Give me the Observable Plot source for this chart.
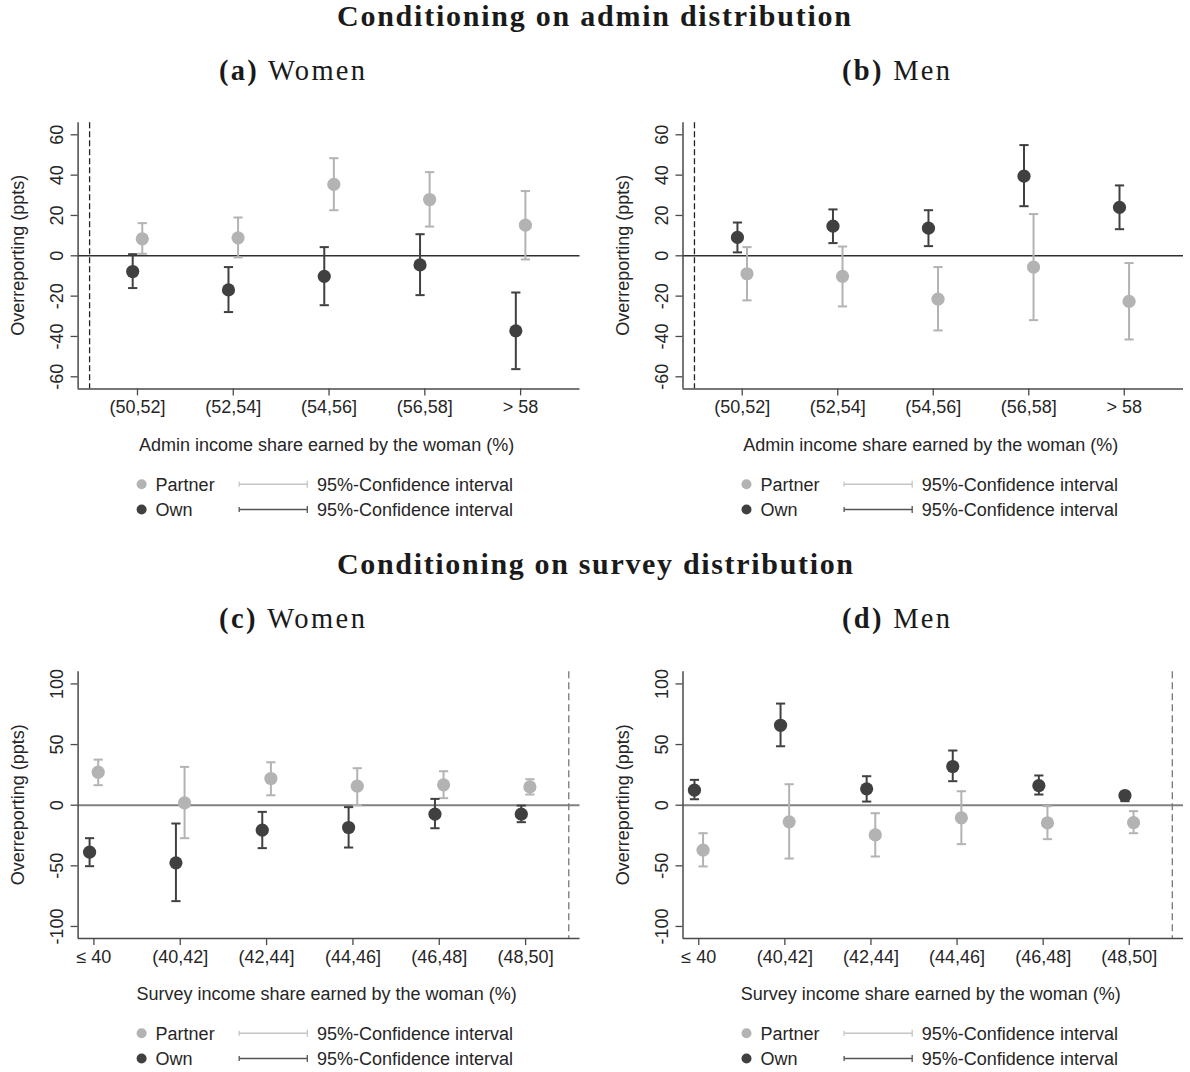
<!DOCTYPE html>
<html><head><meta charset="utf-8">
<script src="https://cdn.jsdelivr.net/npm/d3@7"></script>
<script src="https://cdn.jsdelivr.net/npm/@observablehq/plot@0.6"></script>
<style>
html,body{margin:0;padding:0;background:#fff;}
#root{position:relative;width:1190px;height:1072px;overflow:hidden;background:#fff;}
#root > svg{position:absolute;}
</style></head><body><div id="root"></div>
<script>
// ---- categories and tick labels ----
const adminCategories = ["(50,52]", "(52,54]", "(54,56]", "(56,58]", "> 58"];
const surveyCategories = ["≤ 40", "(40,42]", "(42,44]", "(44,46]", "(46,48]", "(48,50]"];
const adminTicksY = [-60, -40, -20, 0, 20, 40, 60];
const surveyTicksY = [-100, -50, 0, 50, 100];

// ---- (a) Women, admin distribution ----
const womenAdminPartner     = [8.4, 8.9, 35.4, 27.9, 15.2];
const womenAdminPartnerLow  = [1.0, -0.8, 22.6, 14.5, -1.8];
const womenAdminPartnerHigh = [16.2, 19.0, 48.4, 41.5, 32.1];
const womenAdminOwn         = [-7.8, -16.9, -10.2, -4.5, -37.2];
const womenAdminOwnLow      = [-16.0, -27.9, -24.5, -19.5, -56.2];
const womenAdminOwnHigh     = [0.8, -5.6, 4.3, 10.7, -18.2];

// ---- (b) Men, admin distribution ----
const menAdminPartner     = [-8.9, -10.2, -21.5, -5.6, -22.6];
const menAdminPartnerLow  = [-22.1, -25.1, -37.0, -31.9, -41.5];
const menAdminPartnerHigh = [4.3, 4.6, -5.6, 20.7, -3.6];
const menAdminOwn         = [9.1, 14.7, 13.7, 39.5, 24.0];
const menAdminOwnLow      = [1.7, 6.3, 4.8, 24.6, 13.2];
const menAdminOwnHigh     = [16.5, 23.0, 22.6, 54.9, 34.9];

// ---- (c) Women, survey distribution ----
const womenSurveyPartner     = [27.2, 1.9, 22.0, 15.7, 16.8, 15.1];
const womenSurveyPartnerLow  = [16.5, -27.2, 8.2, 0.0, 5.8, 8.8];
const womenSurveyPartnerHigh = [37.6, 31.6, 35.4, 30.5, 28.0, 21.4];
const womenSurveyOwn         = [-38.7, -47.5, -20.6, -18.4, -7.4, -7.4];
const womenSurveyOwnLow      = [-50.3, -79.1, -35.4, -34.9, -19.0, -14.0];
const womenSurveyOwnHigh     = [-27.2, -15.1, -5.5, -1.6, 5.2, -0.3];

// ---- (d) Men, survey distribution ----
const menSurveyPartner     = [-37.1, -13.7, -24.5, -10.4, -14.6, -14.3];
const menSurveyPartnerLow  = [-50.5, -44.0, -42.3, -32.1, -28.0, -23.1];
const menSurveyPartnerHigh = [-23.1, 17.3, -6.6, 11.5, -0.8, -4.9];
const menSurveyOwn         = [12.4, 65.9, 13.5, 31.9, 16.2, 8.0];
const menSurveyOwnLow      = [4.9, 48.6, 3.0, 19.8, 8.8, 3.3];
const menSurveyOwnHigh     = [20.9, 83.8, 23.9, 45.1, 24.5, 10.7];

// ---- styling ----
const partnerColor = "#b3b3b3";
const ownColor = "#404040";
const partnerLegendLine = "#c6c6c6";
const ownLegendLine = "#555555";
const sans = "'Liberation Sans', Arial, Helvetica, sans-serif";
const serif = "'Liberation Serif', 'Times New Roman', serif";

function rows(categories, est, lo, hi, who) {
  return categories.map((c, i) => ({cat: c, pos: i + 1, who, est: est[i], lo: lo[i], hi: hi[i]}));
}

const capSymbol = {
  draw(ctx, size) {
    const h = Math.sqrt(size / Math.PI);
    ctx.moveTo(-h, 0);
    ctx.lineTo(h, 0);
  }
};

function panel(cfg) {
  const {categories, own, partner, xDomain, yDomain, yTicks, cut, zeroStroke, zeroWidth, cutStroke, cutDash} = cfg;
  const shift = 0.05;
  const xOf = d => d.pos + (d.who === "Own" ? -shift : shift);
  const series = (data, color) => [
    Plot.ruleX(data, {x: xOf, y1: "lo", y2: "hi", stroke: color, strokeWidth: 2}),
    Plot.dot(data, {x: xOf, y: "lo", symbol: capSymbol, r: 4.6, stroke: color, strokeWidth: 2, fill: "none"}),
    Plot.dot(data, {x: xOf, y: "hi", symbol: capSymbol, r: 4.6, stroke: color, strokeWidth: 2, fill: "none"}),
    Plot.dot(data, {x: xOf, y: "est", r: 6.6, fill: color, stroke: "none"})
  ];
  const svg = Plot.plot({
    width: cfg.width, height: cfg.height,
    marginLeft: cfg.marginLeft, marginRight: cfg.marginRight,
    marginTop: cfg.marginTop, marginBottom: cfg.marginBottom,
    style: {fontFamily: sans, fontSize: "18px", color: "#222", background: "transparent", overflow: "visible"},
    x: {domain: xDomain, axis: null},
    y: {domain: yDomain, axis: null},
    marks: [
      Plot.ruleY([0], {stroke: zeroStroke, strokeWidth: zeroWidth}),
      Plot.ruleX([cut], {stroke: cutStroke, strokeWidth: 1.3, strokeDasharray: cutDash}),
      ...series(partner, partnerColor),
      ...series(own, ownColor),
      Plot.ruleX([xDomain[0]], {stroke: "#4a4a4a", strokeWidth: 1.5}),
      Plot.ruleY([yDomain[0]], {stroke: "#4a4a4a", strokeWidth: 1.5}),
      Plot.axisX({ticks: categories.map((c, i) => i + 1), tickFormat: i => categories[i - 1],
        tickSize: 7, tickPadding: 4.5, label: null, stroke: "#4a4a4a", strokeWidth: 1.3, fill: "#262626", fontSize: 18}),
      Plot.axisY({ticks: yTicks, tickFormat: d => String(d), tickRotate: -90,
        tickSize: 7, tickPadding: 8, label: null, stroke: "#4a4a4a", strokeWidth: 1.3, fill: "#262626", fontSize: 18})
    ]
  });
  svg.style.left = cfg.left + "px";
  svg.style.top = cfg.top + "px";
  return svg;
}

const root = document.getElementById("root");
const adminX = [0.38, 5.62];
const surveyX = [0.817, 6.63];
const common = {height: 350};

const panels = [
  {left: 0, top: 110, width: 595, marginLeft: 77.6, marginRight: 15.5, marginTop: 12.2, marginBottom: 71.6,
   categories: adminCategories, xDomain: adminX, yDomain: [-66, 66], yTicks: adminTicksY, cut: 0.5,
   own: rows(adminCategories, womenAdminOwn, womenAdminOwnLow, womenAdminOwnHigh, "Own"),
   partner: rows(adminCategories, womenAdminPartner, womenAdminPartnerLow, womenAdminPartnerHigh, "Partner"),
   zeroStroke: "#303030", zeroWidth: 1.4, cutStroke: "#222", cutDash: "6,3"},
  {left: 605, top: 110, width: 585, marginLeft: 77.5, marginRight: 7, marginTop: 12.2, marginBottom: 71.6,
   categories: adminCategories, xDomain: adminX, yDomain: [-66, 66], yTicks: adminTicksY, cut: 0.5,
   own: rows(adminCategories, menAdminOwn, menAdminOwnLow, menAdminOwnHigh, "Own"),
   partner: rows(adminCategories, menAdminPartner, menAdminPartnerLow, menAdminPartnerHigh, "Partner"),
   zeroStroke: "#303030", zeroWidth: 1.4, cutStroke: "#222", cutDash: "6,3"},
  {left: 0, top: 660, width: 595, marginLeft: 77.6, marginRight: 15.5, marginTop: 11.3, marginBottom: 71.9,
   categories: surveyCategories, xDomain: surveyX, yDomain: [-110, 110], yTicks: surveyTicksY, cut: 6.5,
   own: rows(surveyCategories, womenSurveyOwn, womenSurveyOwnLow, womenSurveyOwnHigh, "Own"),
   partner: rows(surveyCategories, womenSurveyPartner, womenSurveyPartnerLow, womenSurveyPartnerHigh, "Partner"),
   zeroStroke: "#808080", zeroWidth: 2, cutStroke: "#777", cutDash: "7,4"},
  {left: 605, top: 660, width: 585, marginLeft: 77.5, marginRight: 7, marginTop: 11.3, marginBottom: 71.9,
   categories: surveyCategories, xDomain: surveyX, yDomain: [-110, 110], yTicks: surveyTicksY, cut: 6.5,
   own: rows(surveyCategories, menSurveyOwn, menSurveyOwnLow, menSurveyOwnHigh, "Own"),
   partner: rows(surveyCategories, menSurveyPartner, menSurveyPartnerLow, menSurveyPartnerHigh, "Partner"),
   zeroStroke: "#808080", zeroWidth: 2, cutStroke: "#777", cutDash: "7,4"}
];
for (const p of panels) root.appendChild(panel({...common, ...p}));

// ---- overlay: titles, axis titles, legends ----
const NS = "http://www.w3.org/2000/svg";
const ov = document.createElementNS(NS, "svg");
ov.setAttribute("width", 1190); ov.setAttribute("height", 1072);
ov.style.left = "0px"; ov.style.top = "0px"; ov.style.zIndex = 2; ov.style.pointerEvents = "none";
root.appendChild(ov);
function el(tag, attrs, text) {
  const e = document.createElementNS(NS, tag);
  for (const k in attrs) e.setAttribute(k, attrs[k]);
  if (text != null) e.textContent = text;
  ov.appendChild(e);
  return e;
}
function title(x, y, txt, len) {
  el("text", {x, y, "text-anchor": "middle", "font-family": serif, "font-weight": "bold", "font-size": 30,
    fill: "#1a1a1a", textLength: len, lengthAdjust: "spacing"}, txt);
}
function subtitle(x, y, tag, word, len) {
  const t = el("text", {x, y, "text-anchor": "middle", "font-family": serif, "font-size": 28.5, fill: "#1a1a1a",
    textLength: len, lengthAdjust: "spacing"});
  const a = document.createElementNS(NS, "tspan"); a.setAttribute("font-weight", "bold"); a.textContent = tag;
  const b = document.createElementNS(NS, "tspan"); b.textContent = " " + word;
  t.appendChild(a); t.appendChild(b);
}
title(594, 26, "Conditioning on admin distribution", 514);
title(595, 574, "Conditioning on survey distribution", 516);
subtitle(292, 80, "(a)", "Women", 146);
subtitle(896, 80, "(b)", "Men", 108);
subtitle(292, 628, "(c)", "Women", 146);
subtitle(896, 628, "(d)", "Men", 108);

const axisTitles = [
  {ax: 77.6, plotRight: 579.5, cy: 255.3, xBase: 451, label: "Admin income share earned by the woman (%)"},
  {ax: 682.5, plotRight: 1183, cy: 255.3, xBase: 451, label: "Admin income share earned by the woman (%)"},
  {ax: 77.6, plotRight: 579.5, cy: 804.7, xBase: 1000, label: "Survey income share earned by the woman (%)"},
  {ax: 682.5, plotRight: 1183, cy: 804.7, xBase: 1000, label: "Survey income share earned by the woman (%)"}
];
const legendRows = [
  {name: "Partner", dot: partnerColor, line: partnerLegendLine},
  {name: "Own", dot: ownColor, line: ownLegendLine}
];
for (const a of axisTitles) {
  const yx = a.ax - 53.5;
  el("text", {transform: `translate(${yx},${a.cy}) rotate(-90)`, "text-anchor": "middle",
    "font-family": sans, "font-size": 18, fill: "#262626"}, "Overreporting (ppts)");
  el("text", {x: (a.ax + a.plotRight) / 2 - 2, y: a.xBase, "text-anchor": "middle",
    "font-family": sans, "font-size": 18, fill: "#262626"}, a.label);
  legendRows.forEach((r, i) => {
    const y = a.xBase + 33.3 + i * 25.2;
    el("circle", {cx: a.ax + 64, cy: y, r: 5, fill: r.dot});
    el("text", {x: a.ax + 78, y: y + 6.4, "font-family": sans, "font-size": 18, fill: "#262626"}, r.name);
    el("line", {x1: a.ax + 161.6, x2: a.ax + 229.7, y1: y, y2: y, stroke: r.line, "stroke-width": 1.5});
    el("line", {x1: a.ax + 161.6, x2: a.ax + 161.6, y1: y - 2.5, y2: y + 2.5, stroke: r.line, "stroke-width": 1.3});
    el("line", {x1: a.ax + 229.7, x2: a.ax + 229.7, y1: y - 3.5, y2: y + 3.5, stroke: r.line, "stroke-width": 1.3});
    el("text", {x: a.ax + 239.3, y: y + 6.4, "font-family": sans, "font-size": 18, fill: "#262626"}, "95%-Confidence interval");
  });
}
</script></body></html>
